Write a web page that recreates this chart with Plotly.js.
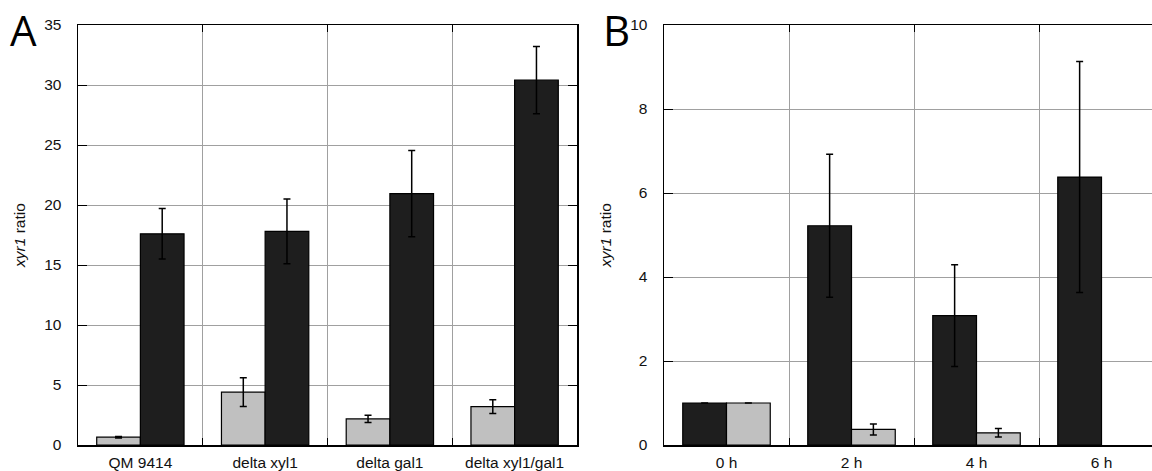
<!DOCTYPE html>
<html><head><meta charset="utf-8">
<script src="https://cdn.plot.ly/plotly-3.0.1.min.js"></script>
<style>html,body{margin:0;padding:0;background:#fff;}#chart{width:1152px;height:471px;}</style>
</head><body><div id="chart"></div>
<script>
// Panel A
const strainsA = ["QM 9414", "delta xyl1", "delta gal1", "delta xyl1/gal1"];
const greyA = [0.65, 4.4, 2.17, 3.2];
const greyAErr = [0.06, 1.2, 0.3, 0.57];
const blackA = [17.6, 17.8, 20.95, 30.4];
const blackAErr = [2.1, 2.7, 3.6, 2.8];
// Panel B
const timesB = ["0 h", "2 h", "4 h", "6 h"];
const blackB = [1.0, 5.22, 3.08, 6.38];
const blackBErr = [null, 1.7, 1.21, 2.75];
const greyB = [1.0, 0.37, 0.29, null];
const greyBErr = [null, 0.13, 0.1, null];

const GREY = "#c0c0c0", BLACK = "#1e1e1e";
function bar(x, y, err, color, xa, ya) {
  return {
    type: "bar", x: x, y: y, xaxis: xa, yaxis: ya, showlegend: false,
    marker: {color: color, line: {color: "#000", width: 1.2}},
    error_y: {type: "data", array: err, visible: true, color: "#000", thickness: 1.5, width: 3.5},
    hoverinfo: "skip"
  };
}
const data = [
  bar(strainsA, greyA, greyAErr, GREY, "x", "y"),
  bar(strainsA, blackA, blackAErr, BLACK, "x", "y"),
  bar(timesB, blackB, blackBErr, BLACK, "x2", "y2"),
  bar(timesB, greyB, greyBErr, GREY, "x2", "y2")
];
const FONT = "Liberation Sans, Arial, sans-serif";
const tickFont = {family: FONT, size: 15.5, color: "#111"};
const xCommon = {
  type: "category", tickson: "boundaries", ticks: "inside", ticklen: 7, tickcolor: "#000",
  showline: true, linecolor: "#000", linewidth: 1.5, mirror: "ticks",
  showgrid: true, gridcolor: "#a0a0a0", gridwidth: 1,
  tickfont: tickFont, ticklabelstandoff: 3, zeroline: false, fixedrange: true
};
const yCommon = {
  ticks: "inside", ticklen: 9, tickcolor: "#000",
  showline: true, linecolor: "#000", linewidth: 1.5,
  showgrid: true, gridcolor: "#a0a0a0", gridwidth: 1,
  tickfont: tickFont, ticklabelstandoff: 12, zeroline: false, fixedrange: true,
  title: {text: "<i>xyr1</i> ratio", font: {family: FONT, size: 15.5, color: "#111"}, standoff: 14}
};
const layout = {
  width: 1152, height: 471,
  margin: {l: 0, r: 0, t: 25, b: 26},
  paper_bgcolor: "#fff", plot_bgcolor: "#fff",
  bargap: 0.3, bargroupgap: 0, barmode: "group",
  xaxis: Object.assign({}, xCommon, {domain: [78/1152, 577/1152], anchor: "y", range: [-0.5, 3.5]}),
  yaxis: Object.assign({}, yCommon, {domain: [0, 1], anchor: "x", range: [0, 35], dtick: 5, mirror: "ticks"}),
  xaxis2: Object.assign({}, xCommon, {domain: [664/1152, 1], anchor: "y2", range: [-0.5, 3.404]}),
  yaxis2: Object.assign({}, yCommon, {domain: [0, 1], anchor: "x2", range: [0, 10], dtick: 2, mirror: false}),
  annotations: [
    {text: "A", xref: "paper", yref: "paper", x: 9/1152, y: 445/420, xanchor: "left", yanchor: "top", showarrow: false,
     borderpad: 0, font: {family: "Open Sans, sans-serif", size: 42, color: "#000"}},
    {text: "B", xref: "paper", yref: "paper", x: 602/1152, y: 445/420, xanchor: "left", yanchor: "top", showarrow: false,
     borderpad: 0, font: {family: "Open Sans, sans-serif", size: 42, color: "#000"}}
  ]
};
Plotly.newPlot("chart", data, layout, {staticPlot: true, displayModeBar: false});
</script></body></html>
